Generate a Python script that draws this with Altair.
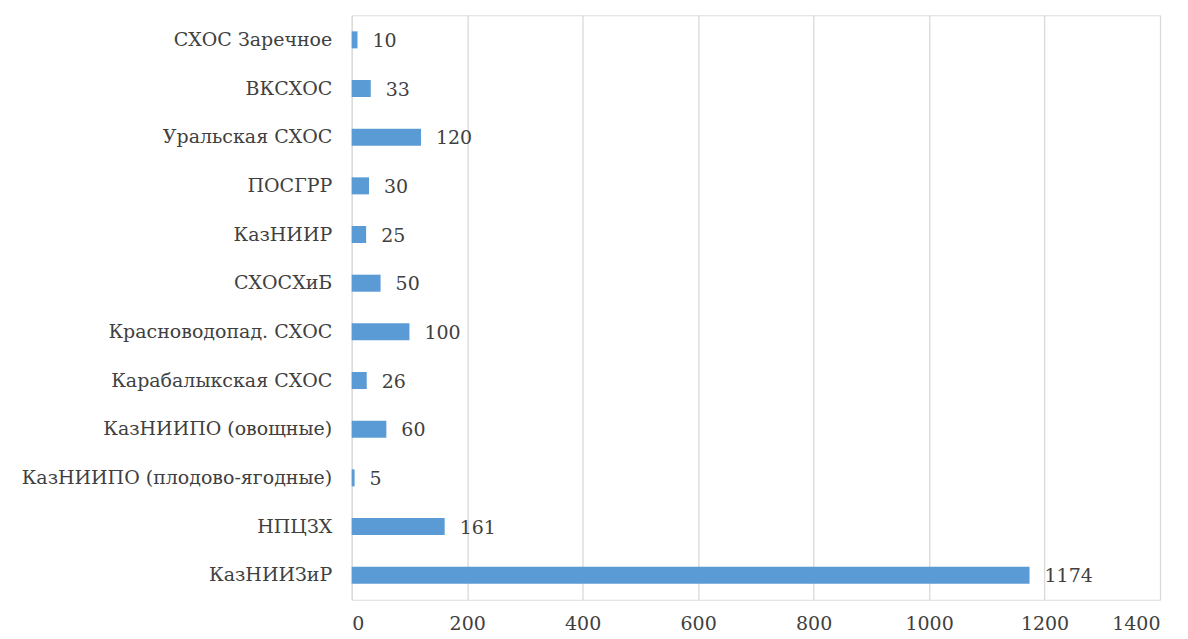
import altair as alt
import pandas as pd

categories = ["СХОС Заречное", "ВКСХОС", "Уральская СХОС", "ПОСГРР", "КазНИИР",
              "СХОСХиБ", "Красноводопад. СХОС", "Карабалыкская СХОС",
              "КазНИИПО (овощные)", "КазНИИПО (плодово-ягодные)", "НПЦЗХ", "КазНИИЗиР"]
values = [10, 33, 120, 30, 25, 50, 100, 26, 60, 5, 161, 1174]
x_ticks = [0, 200, 400, 600, 800, 1000, 1200, 1400]

df = pd.DataFrame({"cat": categories, "val": values})

font = "DejaVu Serif"
txt = "#404040"
fs = 19

y_enc = alt.Y("cat:N", sort=categories, title=None,
              scale=alt.Scale(paddingInner=0.65, paddingOuter=0.33),
              axis=alt.Axis(domain=False, ticks=False, labelPadding=20, labelFontSize=fs,
                            labelFont=font, labelColor=txt, grid=False, labelLimit=400))
x_enc = alt.X("val:Q", title=None, scale=alt.Scale(domain=[0, 1400], nice=False),
              axis=alt.Axis(values=x_ticks, format="d", domain=False, ticks=False, grid=True,
                            gridColor="#D9D9D9", gridWidth=1.3, labelPadding=15,
                            labelFontSize=fs, labelFont=font, labelColor=txt))

bars = alt.Chart(df).mark_bar(color="#5B9BD5").encode(y=y_enc, x=x_enc)
labels = alt.Chart(df).mark_text(align="left", baseline="middle", dx=15, dy=1,
                                 fontSize=fs, font=font, color=txt).encode(
    y=alt.Y("cat:N", sort=categories), x="val:Q", text="val:Q")

chart = (bars + labels).properties(
    width=809, height=585,
    autosize=alt.AutoSizeParams(type="none"),
    padding={"left": 344, "top": 7, "right": 20, "bottom": 45},
).configure_view(stroke=None).configure(background="white", font=font)

chart.save("out.html", embed_options={"renderer": "svg", "actions": False})
